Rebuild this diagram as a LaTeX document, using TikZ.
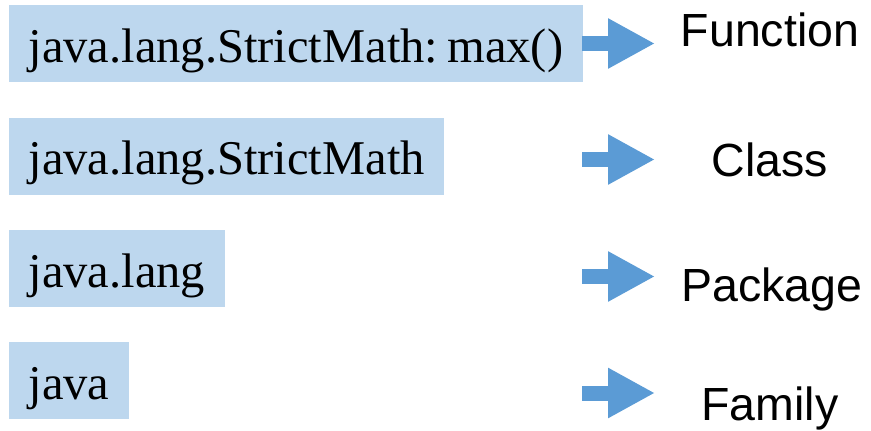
\documentclass[tikz,border=0pt]{standalone}
\usepackage{fontspec}
\setmainfont{Liberation Serif}
\newfontfamily\labelfont{Liberation Sans}
\usepackage{xcolor}
\usetikzlibrary{arrows.meta,positioning}

\definecolor{boxblue}{RGB}{189,215,238}
\definecolor{arrowblue}{RGB}{91,155,213}

\begin{document}
\begin{tikzpicture}[
  x=1pt,y=-1pt,
  namebox/.style={fill=boxblue,inner xsep=19.5pt,inner ysep=0pt,
               text height=57pt,text depth=20pt,
               font=\fontsize{48.5}{58}\selectfont},
  level/.style={anchor=base,inner sep=0pt,
                font=\labelfont\fontsize{46.5}{56}\selectfont},
  pointer/.style={line width=15pt,draw=arrowblue,
                  -{Triangle[length=47pt,width=47pt,fill=arrowblue]}}
]
\useasboundingbox (0,0) rectangle (871,431);

\node[namebox,anchor=north west] (fun) at (9,5) {java.lang.StrictMath:\hspace{0.19em}max()};
\node[namebox,below=35pt of fun.south west,anchor=north west] (cls) {java.lang.StrictMath};
\node[namebox,below=35pt of cls.south west,anchor=north west] (pkg) {java.lang};
\node[namebox,below=35pt of pkg.south west,anchor=north west] (fam) {java};

\node[level] (funlab) at (770,46) {Function};
\node[level] (clslab) at (770,176) {Class};
\node[level] (pkglab) at (772,301) {Package};
\node[level] (famlab) at (770,420) {Family};

% arrows towards the level names
\coordinate (s1) at (582,43.5);  \coordinate (t1) at (655,43.5);
\coordinate (s2) at (582,159.5); \coordinate (t2) at (655,159.5);
\coordinate (s3) at (582,276.5); \coordinate (t3) at (655,276.5);
\coordinate (s4) at (582,393);   \coordinate (t4) at (655,393);
\foreach \i in {1,...,4}
  \draw[pointer] (s\i) -- (t\i);
\end{tikzpicture}
\end{document}
